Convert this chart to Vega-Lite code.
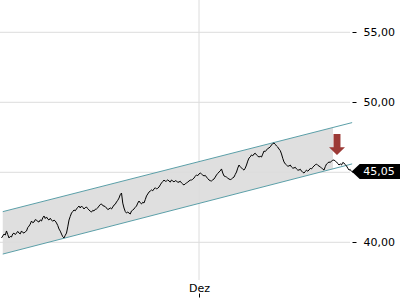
{
  "$schema": "https://vega.github.io/schema/vega-lite/v6.json",
  "width": 350,
  "height": 300,
  "autosize": {"type": "none"},
  "padding": {"left": 0, "top": 0, "right": 50, "bottom": 0},
  "config": {"view": {"stroke": null}, "font": "DejaVu Sans"},
  "datasets": {
    "price": [
      {"t":"2023-09-13","p":40.31},{"t":"2023-09-13T12:00Z","p":40.45},{"t":"2023-09-14","p":40.59},{"t":"2023-09-14T12:00Z","p":40.52},
      {"t":"2023-09-15","p":40.81},{"t":"2023-09-15T12:00Z","p":40.55},{"t":"2023-09-16","p":40.31},{"t":"2023-09-16T12:00Z","p":40.42},
      {"t":"2023-09-17","p":40.38},{"t":"2023-09-17T12:00Z","p":40.60},{"t":"2023-09-18","p":40.66},{"t":"2023-09-18T12:00Z","p":40.55},
      {"t":"2023-09-19","p":40.66},{"t":"2023-09-19T12:00Z","p":40.78},{"t":"2023-09-20","p":40.66},{"t":"2023-09-20T12:00Z","p":40.60},
      {"t":"2023-09-21","p":40.81},{"t":"2023-09-21T12:00Z","p":40.70},{"t":"2023-09-22","p":40.66},{"t":"2023-09-22T12:00Z","p":40.75},
      {"t":"2023-09-23","p":40.81},{"t":"2023-09-23T12:00Z","p":41.05},{"t":"2023-09-24","p":41.16},{"t":"2023-09-24T12:00Z","p":41.30},
      {"t":"2023-09-25","p":41.52},{"t":"2023-09-25T12:00Z","p":41.40},{"t":"2023-09-26","p":41.45},{"t":"2023-09-26T12:00Z","p":41.62},
      {"t":"2023-09-27","p":41.59},{"t":"2023-09-27T12:00Z","p":41.48},{"t":"2023-09-28","p":41.45},{"t":"2023-09-28T12:00Z","p":41.60},
      {"t":"2023-09-29","p":41.52},{"t":"2023-09-29T12:00Z","p":41.75},{"t":"2023-09-30","p":41.88},{"t":"2023-09-30T12:00Z","p":41.70},
      {"t":"2023-10-01","p":41.81},{"t":"2023-10-01T12:00Z","p":41.66},{"t":"2023-10-02","p":41.59},{"t":"2023-10-02T12:00Z","p":41.72},
      {"t":"2023-10-03","p":41.59},{"t":"2023-10-03T12:00Z","p":41.50},{"t":"2023-10-04","p":41.59},{"t":"2023-10-04T12:00Z","p":41.52},
      {"t":"2023-10-05","p":41.38},{"t":"2023-10-05T12:00Z","p":41.20},{"t":"2023-10-06","p":40.95},{"t":"2023-10-06T12:00Z","p":40.80},
      {"t":"2023-10-07","p":40.59},{"t":"2023-10-07T12:00Z","p":40.40},{"t":"2023-10-08","p":40.31},{"t":"2023-10-08T12:00Z","p":40.50},
      {"t":"2023-10-09","p":40.66},{"t":"2023-10-09T12:00Z","p":41.10},{"t":"2023-10-10","p":41.59},{"t":"2023-10-10T12:00Z","p":41.85},
      {"t":"2023-10-11","p":42.09},{"t":"2023-10-11T12:00Z","p":42.20},{"t":"2023-10-12","p":42.31},{"t":"2023-10-12T12:00Z","p":42.25},
      {"t":"2023-10-13","p":42.38},{"t":"2023-10-13T12:00Z","p":42.50},{"t":"2023-10-14","p":42.59},{"t":"2023-10-14T12:00Z","p":42.45},
      {"t":"2023-10-15","p":42.59},{"t":"2023-10-15T12:00Z","p":42.50},{"t":"2023-10-16","p":42.38},{"t":"2023-10-16T12:00Z","p":42.48},
      {"t":"2023-10-17","p":42.52},{"t":"2023-10-17T12:00Z","p":42.40},{"t":"2023-10-18","p":42.31},{"t":"2023-10-18T12:00Z","p":42.22},
      {"t":"2023-10-19","p":42.16},{"t":"2023-10-19T12:00Z","p":42.28},{"t":"2023-10-20","p":42.24},{"t":"2023-10-20T12:00Z","p":42.36},
      {"t":"2023-10-21","p":42.38},{"t":"2023-10-21T12:00Z","p":42.46},{"t":"2023-10-22","p":42.59},{"t":"2023-10-22T12:00Z","p":42.70},
      {"t":"2023-10-23","p":42.74},{"t":"2023-10-23T12:00Z","p":42.62},{"t":"2023-10-24","p":42.59},{"t":"2023-10-24T12:00Z","p":42.55},
      {"t":"2023-10-25","p":42.45},{"t":"2023-10-25T12:00Z","p":42.34},{"t":"2023-10-26","p":42.38},{"t":"2023-10-26T12:00Z","p":42.46},
      {"t":"2023-10-27","p":42.38},{"t":"2023-10-27T12:00Z","p":42.52},{"t":"2023-10-28","p":42.66},{"t":"2023-10-28T12:00Z","p":42.72},
      {"t":"2023-10-29","p":42.88},{"t":"2023-10-29T12:00Z","p":43.00},{"t":"2023-10-30","p":43.16},{"t":"2023-10-30T12:00Z","p":43.40},
      {"t":"2023-10-31","p":43.52},{"t":"2023-10-31T12:00Z","p":42.80},{"t":"2023-11-01","p":42.45},{"t":"2023-11-01T12:00Z","p":42.20},
      {"t":"2023-11-02","p":42.09},{"t":"2023-11-02T12:00Z","p":42.16},{"t":"2023-11-03","p":42.09},{"t":"2023-11-03T12:00Z","p":42.02},
      {"t":"2023-11-04","p":42.24},{"t":"2023-11-04T12:00Z","p":42.30},{"t":"2023-11-05","p":42.38},{"t":"2023-11-05T12:00Z","p":42.50},
      {"t":"2023-11-06","p":42.59},{"t":"2023-11-06T12:00Z","p":42.80},{"t":"2023-11-07","p":42.95},{"t":"2023-11-07T12:00Z","p":42.82},
      {"t":"2023-11-08","p":42.74},{"t":"2023-11-08T12:00Z","p":42.86},{"t":"2023-11-09","p":42.81},{"t":"2023-11-09T12:00Z","p":43.05},
      {"t":"2023-11-10","p":43.31},{"t":"2023-11-10T12:00Z","p":43.45},{"t":"2023-11-11","p":43.59},{"t":"2023-11-11T12:00Z","p":43.66},
      {"t":"2023-11-12","p":43.74},{"t":"2023-11-12T12:00Z","p":43.68},{"t":"2023-11-13","p":43.81},{"t":"2023-11-13T12:00Z","p":43.90},
      {"t":"2023-11-14","p":43.81},{"t":"2023-11-14T12:00Z","p":43.86},{"t":"2023-11-15","p":43.95},{"t":"2023-11-15T12:00Z","p":44.10},
      {"t":"2023-11-16","p":44.24},{"t":"2023-11-16T12:00Z","p":44.34},{"t":"2023-11-17","p":44.45},{"t":"2023-11-17T12:00Z","p":44.36},
      {"t":"2023-11-18","p":44.38},{"t":"2023-11-18T12:00Z","p":44.46},{"t":"2023-11-19","p":44.38},{"t":"2023-11-19T12:00Z","p":44.30},
      {"t":"2023-11-20","p":44.45},{"t":"2023-11-20T12:00Z","p":44.38},{"t":"2023-11-21","p":44.31},{"t":"2023-11-21T12:00Z","p":44.40},
      {"t":"2023-11-22","p":44.38},{"t":"2023-11-22T12:00Z","p":44.28},{"t":"2023-11-23","p":44.31},{"t":"2023-11-23T12:00Z","p":44.36},
      {"t":"2023-11-24","p":44.24},{"t":"2023-11-24T12:00Z","p":44.16},{"t":"2023-11-25","p":44.09},{"t":"2023-11-25T12:00Z","p":44.18},
      {"t":"2023-11-26","p":44.24},{"t":"2023-11-26T12:00Z","p":44.30},{"t":"2023-11-27","p":44.38},{"t":"2023-11-27T12:00Z","p":44.44},
      {"t":"2023-11-28","p":44.45},{"t":"2023-11-28T12:00Z","p":44.50},{"t":"2023-11-29","p":44.59},{"t":"2023-11-29T12:00Z","p":44.72},
      {"t":"2023-11-30","p":44.81},{"t":"2023-11-30T12:00Z","p":44.76},{"t":"2023-12-01","p":44.88},{"t":"2023-12-01T12:00Z","p":44.95},
      {"t":"2023-12-02","p":44.88},{"t":"2023-12-02T12:00Z","p":44.80},{"t":"2023-12-03","p":44.74},{"t":"2023-12-03T12:00Z","p":44.78},
      {"t":"2023-12-04","p":44.66},{"t":"2023-12-04T12:00Z","p":44.55},{"t":"2023-12-05","p":44.45},{"t":"2023-12-05T12:00Z","p":44.40},
      {"t":"2023-12-06","p":44.38},{"t":"2023-12-06T12:00Z","p":44.46},{"t":"2023-12-07","p":44.52},{"t":"2023-12-07T12:00Z","p":44.66},
      {"t":"2023-12-08","p":44.81},{"t":"2023-12-08T12:00Z","p":44.92},{"t":"2023-12-09","p":45.02},{"t":"2023-12-09T12:00Z","p":45.10},
      {"t":"2023-12-10","p":45.24},{"t":"2023-12-10T12:00Z","p":44.95},{"t":"2023-12-11","p":44.74},{"t":"2023-12-11T12:00Z","p":44.70},
      {"t":"2023-12-12","p":44.66},{"t":"2023-12-12T12:00Z","p":44.58},{"t":"2023-12-13","p":44.52},{"t":"2023-12-13T12:00Z","p":44.48},
      {"t":"2023-12-14","p":44.52},{"t":"2023-12-14T12:00Z","p":44.60},{"t":"2023-12-15","p":44.66},{"t":"2023-12-15T12:00Z","p":44.85},
      {"t":"2023-12-16","p":45.02},{"t":"2023-12-16T12:00Z","p":45.30},{"t":"2023-12-17","p":45.52},{"t":"2023-12-17T12:00Z","p":45.40},
      {"t":"2023-12-18","p":45.31},{"t":"2023-12-18T12:00Z","p":45.22},{"t":"2023-12-19","p":45.16},{"t":"2023-12-19T12:00Z","p":45.30},
      {"t":"2023-12-20","p":45.52},{"t":"2023-12-20T12:00Z","p":45.80},{"t":"2023-12-21","p":46.02},{"t":"2023-12-21T12:00Z","p":46.10},
      {"t":"2023-12-22","p":46.24},{"t":"2023-12-22T12:00Z","p":46.18},{"t":"2023-12-23","p":46.31},{"t":"2023-12-23T12:00Z","p":46.36},
      {"t":"2023-12-24","p":46.24},{"t":"2023-12-24T12:00Z","p":46.16},{"t":"2023-12-25","p":46.09},{"t":"2023-12-25T12:00Z","p":46.14},
      {"t":"2023-12-26","p":46.09},{"t":"2023-12-26T12:00Z","p":46.30},{"t":"2023-12-27","p":46.52},{"t":"2023-12-27T12:00Z","p":46.48},
      {"t":"2023-12-28","p":46.59},{"t":"2023-12-28T12:00Z","p":46.70},{"t":"2023-12-29","p":46.74},{"t":"2023-12-29T12:00Z","p":46.82},
      {"t":"2023-12-30","p":46.95},{"t":"2023-12-30T12:00Z","p":47.05},{"t":"2023-12-31","p":47.09},{"t":"2023-12-31T12:00Z","p":47.00},
      {"t":"2024-01-01","p":46.88},{"t":"2024-01-01T12:00Z","p":46.80},{"t":"2024-01-02","p":46.66},{"t":"2024-01-02T12:00Z","p":46.55},
      {"t":"2024-01-03","p":46.31},{"t":"2024-01-03T12:00Z","p":46.00},{"t":"2024-01-04","p":45.74},{"t":"2024-01-04T12:00Z","p":45.60},
      {"t":"2024-01-05","p":45.52},{"t":"2024-01-05T12:00Z","p":45.44},{"t":"2024-01-06","p":45.45},{"t":"2024-01-06T12:00Z","p":45.52},
      {"t":"2024-01-07","p":45.38},{"t":"2024-01-07T12:00Z","p":45.30},{"t":"2024-01-08","p":45.31},{"t":"2024-01-08T12:00Z","p":45.36},
      {"t":"2024-01-09","p":45.24},{"t":"2024-01-09T12:00Z","p":45.16},{"t":"2024-01-10","p":45.16},{"t":"2024-01-10T12:00Z","p":45.22},
      {"t":"2024-01-11","p":45.09},{"t":"2024-01-11T12:00Z","p":45.00},{"t":"2024-01-12","p":44.95},{"t":"2024-01-12T12:00Z","p":45.05},
      {"t":"2024-01-13","p":45.16},{"t":"2024-01-13T12:00Z","p":45.08},{"t":"2024-01-14","p":45.16},{"t":"2024-01-14T12:00Z","p":45.28},
      {"t":"2024-01-15","p":45.24},{"t":"2024-01-15T12:00Z","p":45.36},{"t":"2024-01-16","p":45.45},{"t":"2024-01-16T12:00Z","p":45.54},
      {"t":"2024-01-17","p":45.59},{"t":"2024-01-17T12:00Z","p":45.50},{"t":"2024-01-18","p":45.45},{"t":"2024-01-18T12:00Z","p":45.38},
      {"t":"2024-01-19","p":45.31},{"t":"2024-01-19T12:00Z","p":45.24},{"t":"2024-01-20","p":45.16},{"t":"2024-01-20T12:00Z","p":45.40},
      {"t":"2024-01-21","p":45.59},{"t":"2024-01-21T12:00Z","p":45.66},{"t":"2024-01-22","p":45.74},{"t":"2024-01-22T12:00Z","p":45.70},
      {"t":"2024-01-23","p":45.81},{"t":"2024-01-23T12:00Z","p":45.86},{"t":"2024-01-24","p":45.88},{"t":"2024-01-24T12:00Z","p":45.80},
      {"t":"2024-01-25","p":45.74},{"t":"2024-01-25T12:00Z","p":45.62},{"t":"2024-01-26","p":45.52},{"t":"2024-01-26T12:00Z","p":45.60},
      {"t":"2024-01-27","p":45.52},{"t":"2024-01-27T12:00Z","p":45.70},{"t":"2024-01-28","p":45.66},{"t":"2024-01-28T12:00Z","p":45.55},
      {"t":"2024-01-29","p":45.45},{"t":"2024-01-29T12:00Z","p":45.30},{"t":"2024-01-30","p":45.16},{"t":"2024-01-30T12:00Z","p":45.20},
      {"t":"2024-01-31","p":45.05}
    ],
    "channel": [
      {"t":"2023-09-13T12:00:00Z","up":42.19,"lo":39.16},
      {"t":"2024-01-31T06:00:00Z","up":48.55,"lo":45.60}
    ],
    "fill": [
      {"t":"2023-09-13T12:00:00Z","up":42.19,"lo":39.16},
      {"t":"2024-01-23T14:24:00Z","up":48.20,"lo":45.25}
    ],
    "grid": [{"g":40},{"g":45},{"g":50},{"g":55}],
    "vgrid": [{"t":"2023-12-01","a":57.307,"b":37.31}],
    "signal": [{"t":"2024-01-25T04:48:00Z","p":46.99}],
    "last": [{"t":"2024-01-31T02:00:00Z","p":45.05,"label":"45,05"}]
  },
  "layer": [
    {
      "data": {"name": "fill"},
      "mark": {"type": "area", "color": "#dfdfdf", "opacity": 1, "clip": false},
      "encoding": {
        "x": {"field": "t", "type": "temporal", "scale": {"type": "utc", "domain": [1694511360000, 1706607360000]}, "title": null},
        "y": {"field": "up", "type": "quantitative", "scale": {"domain": [35.879, 57.307], "nice": false, "zero": false}, "title": null},
        "y2": {"field": "lo"}
      }
    },
    {
      "data": {"name": "grid"},
      "mark": {"type": "rule", "color": "#dcdcdc", "strokeWidth": 1},
      "encoding": {
        "y": {"field": "g", "type": "quantitative", "scale": {"domain": [35.879, 57.307], "nice": false, "zero": false}, "title": null}
      }
    },
    {
      "data": {"name": "vgrid"},
      "mark": {"type": "rule", "color": "#dcdcdc", "strokeWidth": 1},
      "encoding": {
        "x": {"field": "t", "type": "temporal", "scale": {"type": "utc", "domain": [1694511360000, 1706607360000]}, "title": null},
        "y": {"field": "a", "type": "quantitative", "scale": {"domain": [35.879, 57.307], "nice": false, "zero": false}, "title": null},
        "y2": {"field": "b"}
      }
    },
    {
      "data": {"name": "channel"},
      "mark": {"type": "line", "color": "#5b9fa8", "strokeWidth": 1, "clip": false},
      "encoding": {
        "x": {"field": "t", "type": "temporal", "scale": {"type": "utc", "domain": [1694511360000, 1706607360000]}, "title": null},
        "y": {"field": "up", "type": "quantitative", "scale": {"domain": [35.879, 57.307], "nice": false, "zero": false}, "title": null}
      }
    },
    {
      "data": {"name": "channel"},
      "mark": {"type": "line", "color": "#5b9fa8", "strokeWidth": 1, "clip": false},
      "encoding": {
        "x": {"field": "t", "type": "temporal", "scale": {"type": "utc", "domain": [1694511360000, 1706607360000]}, "title": null},
        "y": {"field": "lo", "type": "quantitative", "scale": {"domain": [35.879, 57.307], "nice": false, "zero": false}, "title": null}
      }
    },
    {
      "data": {"name": "price"},
      "mark": {"type": "line", "color": "#000000", "strokeWidth": 1, "clip": false},
      "encoding": {
        "x": {
          "field": "t", "type": "temporal",
          "scale": {"type": "utc", "domain": [1694511360000, 1706607360000]},
          "title": null,
          "axis": {
            "orient": "bottom", "values": [1701388800000], "labelExpr": "'Dez'",
            "grid": false, "domain": false, "ticks": true, "tickSize": -4, "tickColor": "#000000", "tickWidth": 1,
            "offset": -3, "labelPadding": -2, "labelBaseline": "alphabetic", "labelFlush": false,
            "labelFont": "DejaVu Sans", "labelFontSize": 11, "labelColor": "#000000", "title": null
          }
        },
        "y": {
          "field": "p", "type": "quantitative",
          "scale": {"domain": [35.879, 57.307], "nice": false, "zero": false},
          "title": null,
          "axis": {
            "orient": "right", "values": [40, 45, 50, 55],
            "labelExpr": "replace(format(datum.value, '.2f'), '.', ',')",
            "grid": false, "domain": false, "ticks": true, "tickSize": 4, "tickColor": "#000000", "tickWidth": 1,
            "offset": 2, "labelPadding": 7,
            "labelFont": "DejaVu Sans", "labelFontSize": 11, "labelColor": "#000000", "title": null
          }
        }
      }
    },
    {
      "data": {"name": "signal"},
      "mark": {"type": "point", "shape": "M-0.33,-1L0.33,-1L0.33,0.27L0.76,0.27L0,1L-0.76,0.27L-0.33,0.27Z", "size": 441, "filled": true, "fill": "#9c3a36", "strokeWidth": 0, "opacity": 1, "clip": false},
      "encoding": {
        "x": {"field": "t", "type": "temporal", "scale": {"type": "utc", "domain": [1694511360000, 1706607360000]}, "title": null},
        "y": {"field": "p", "type": "quantitative", "scale": {"domain": [35.879, 57.307], "nice": false, "zero": false}, "title": null}
      }
    },
    {
      "data": {"name": "last"},
      "mark": {"type": "point", "shape": "M0,0L8,-7.5L60,-7.5L60,7.5L8,7.5Z", "size": 4, "filled": true, "fill": "#000000", "strokeWidth": 0, "opacity": 1, "clip": false},
      "encoding": {
        "x": {"field": "t", "type": "temporal", "scale": {"type": "utc", "domain": [1694511360000, 1706607360000]}, "title": null},
        "y": {"field": "p", "type": "quantitative", "scale": {"domain": [35.879, 57.307], "nice": false, "zero": false}, "title": null}
      }
    },
    {
      "data": {"name": "last"},
      "mark": {"type": "text", "color": "#ffffff", "font": "DejaVu Sans", "fontSize": 11, "align": "left", "baseline": "middle", "dx": 11.5, "clip": false},
      "encoding": {
        "x": {"field": "t", "type": "temporal", "scale": {"type": "utc", "domain": [1694511360000, 1706607360000]}, "title": null},
        "y": {"field": "p", "type": "quantitative", "scale": {"domain": [35.879, 57.307], "nice": false, "zero": false}, "title": null},
        "text": {"field": "label"}
      }
    }
  ]
}
